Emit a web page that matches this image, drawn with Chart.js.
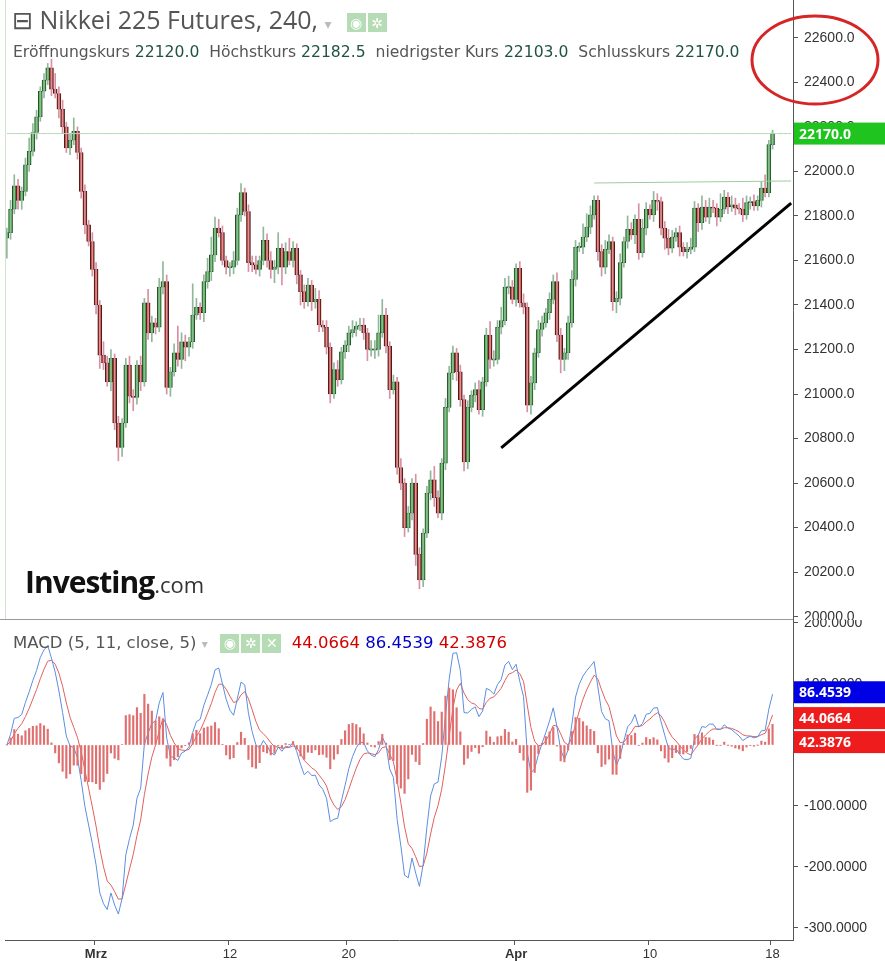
<!DOCTYPE html>
<html>
<head>
<meta charset="utf-8">
<script src="https://cdn.jsdelivr.net/npm/chart.js@4.4.1/dist/chart.umd.min.js"></script>
<style>
  body { margin: 0; background: #fff; font-family: "Open Sans", "DejaVu Sans", sans-serif; }
  #wrap { position: relative; width: 885px; height: 961px; overflow: hidden; }
  canvas { position: absolute; left: 0; }
  .ov { position: absolute; white-space: nowrap; }
  .ico { display: inline-block; width: 19px; height: 19px; background: #b5dcb5; color: #fff;
         font-size: 14px; line-height: 19px; text-align: center; margin-left: 2px; vertical-align: middle; }
  .dv { font-family: "DejaVu Sans", sans-serif; }
  .g { color: #1f5443; }
</style>
</head>
<body>
<div id="wrap">
  <canvas id="price" width="885" height="620" style="top:0;width:885px;height:620px"></canvas>
  <canvas id="macd" width="885" height="341" style="top:620px;width:885px;height:341px"></canvas>
  <div class="ov" style="left:5px;top:0;width:1px;height:620px;background:#cfe3cf"></div>
  <div class="ov" style="left:0;top:619px;width:793px;height:1px;background:#999"></div>
  <div class="ov" style="left:12px;top:2px;font-size:25px;color:#555">⊟ Nikkei 225 Futures, 240, <span style="color:#bbb;font-size:14px">▾</span>&nbsp;
    <span class="ico">◉</span><span class="ico">✲</span></div>
  <div class="ov dv" style="left:13px;top:43px;font-size:15.6px;color:#555">Eröffnungskurs <span class="g">22120.0</span>&nbsp; Höchstkurs <span class="g">22182.5</span>&nbsp; niedrigster Kurs <span class="g">22103.0</span>&nbsp; Schlusskurs <span class="g">22170.0</span></div>
  <div class="ov" style="left:25px;top:561px;font-size:30px;font-weight:bold;color:#111;letter-spacing:-1px">Investing<span style="font-weight:normal;font-size:22px;color:#333;letter-spacing:0">.com</span></div>
  <div class="ov dv" style="left:13px;top:633px;font-size:16.5px;color:#555">MACD (5, 11, close, 5) <span style="color:#bbb;font-size:12px">▾</span>&nbsp;
    <span class="ico">◉</span><span class="ico">✲</span><span class="ico">✕</span>
    <span style="color:#d40000">&nbsp;44.0664</span>&nbsp;<span style="color:#0000c8">86.4539</span>&nbsp;<span style="color:#d40000">42.3876</span></div>
</div>
<script>
// Schlusskurse (4h-Kerzen)
const closes = [
  21725, 21830, 21935, 21870, 21910, 22030, 22090, 22175, 22245, 22360,
  22410, 22465, 22370, 22350, 22280, 22200, 22105, 22140, 22180, 22085,
  21910, 21760, 21685, 21560, 21400, 21175, 21140, 21055, 21160, 20870,
  20760, 20870, 21130, 20990, 20985, 21130, 21055, 21410, 21275, 21320,
  21300, 21480, 21505, 21030, 21100, 21185, 21155, 21235, 21210, 21235,
  21355, 21390, 21365, 21505, 21550, 21625, 21745, 21725, 21600, 21570,
  21570, 21600, 21805, 21905, 21820, 21590, 21580, 21560, 21600, 21690,
  21600, 21560, 21570, 21655, 21570, 21640, 21600, 21655, 21535, 21460,
  21415, 21490, 21415, 21425, 21310, 21300, 21210, 21000, 21110, 21065,
  21190, 21220, 21275, 21290, 21305, 21310, 21275, 21200, 21200, 21200,
  21275, 21355, 21215, 21020, 21055, 20670, 20600, 20400, 20465, 20600,
  20280, 20165, 20375, 20555, 20615, 20535, 20465, 20690, 20940, 21095,
  21185, 21100, 20975, 20695, 20940, 20995, 21020, 20930, 21055, 21265,
  21155, 21155, 21300, 21330, 21480, 21480, 21425, 21565, 21410, 21390,
  20950, 21050, 21185, 21290, 21320, 21365, 21425, 21505, 21265, 21155,
  21185, 21320, 21515, 21660, 21660, 21705, 21750, 21805, 21870, 21640,
  21570, 21650, 21685, 21415, 21430, 21590, 21685, 21740, 21715, 21785,
  21635, 21745, 21830, 21805, 21870, 21865, 21745, 21700, 21655, 21705,
  21725, 21660, 21640, 21650, 21660, 21835, 21770, 21840, 21795, 21840,
  21835, 21795, 21830, 21885, 21840, 21850, 21835, 21830, 21805, 21860,
  21865, 21845, 21870, 21925, 21905, 22120, 22170
];
const firstOpen = 21700;
// Dochtlängen über/unter dem Körper
const wickUp = [
  20, 40, 50, 30, 20, 30, 60, 40, 30, 20, 30, 20, 40, 70, 30, 40, 20, 30, 60, 20,
  20, 30, 20, 40, 30, 20, 60, 30, 40, 20, 30, 20, 30, 40, 30, 20, 40, 20, 60, 30,
  20, 40, 90, 30, 20, 40, 120, 40, 30, 20, 140, 40, 20, 30, 60, 80, 50, 40, 30, 20,
  20, 40, 30, 40, 20, 30, 30, 40, 20, 60, 30, 40, 30, 70, 20, 40, 60, 30, 20, 20,
  30, 30, 20, 50, 40, 20, 30, 20, 30, 40, 20, 20, 30, 40, 20, 30, 30, 20, 40, 40,
  80, 70, 30, 20, 30, 20, 40, 20, 30, 20, 40, 30, 20, 30, 40, 60, 30, 20, 40, 30,
  30, 20, 30, 20, 30, 20, 30, 40, 20, 30, 60, 40, 30, 60, 40, 50, 30, 20, 30, 40,
  20, 30, 20, 40, 30, 20, 30, 30, 40, 30, 20, 30, 40, 30, 20, 60, 60, 40, 20, 20,
  30, 40, 30, 20, 30, 40, 20, 60, 30, 20, 70, 40, 30, 20, 40, 30, 20, 30, 40, 30,
  20, 30, 20, 30, 40, 30, 20, 50, 30, 40, 30, 20, 70, 30, 20, 40, 30, 20, 50, 30,
  20, 30, 20, 30, 60, 20, 15
];
const wickDn = [
  90, 30, 20, 40, 40, 20, 30, 20, 30, 20, 30, 20, 30, 20, 40, 30, 20, 30, 20, 30,
  30, 40, 20, 30, 40, 60, 30, 20, 40, 30, 60, 40, 20, 30, 60, 30, 40, 20, 30, 40,
  30, 20, 30, 30, 40, 20, 30, 40, 60, 40, 30, 20, 30, 40, 30, 40, 30, 20, 20, 30,
  40, 30, 20, 30, 20, 40, 30, 20, 30, 20, 30, 40, 60, 30, 80, 30, 20, 30, 40, 60,
  30, 20, 40, 30, 30, 20, 30, 40, 20, 30, 20, 30, 30, 20, 30, 20, 30, 50, 30, 40,
  30, 20, 30, 40, 20, 30, 30, 40, 20, 30, 50, 40, 30, 20, 30, 40, 20, 30, 30, 20,
  30, 40, 30, 40, 30, 20, 30, 20, 30, 20, 40, 30, 20, 30, 20, 30, 20, 30, 20, 30,
  30, 40, 30, 20, 30, 20, 30, 20, 30, 60, 50, 30, 20, 30, 20, 30, 20, 30, 20, 40,
  40, 30, 20, 40, 50, 30, 20, 30, 20, 40, 30, 20, 30, 20, 30, 40, 30, 50, 30, 20,
  20, 40, 20, 30, 20, 20, 40, 30, 20, 30, 20, 40, 20, 20, 30, 20, 30, 20, 30, 20,
  30, 20, 20, 30, 20, 20, 20
];
// Datumsbeschriftungen (Kerzenindex -> Text)
const dateIdx = [24, 60, 92, 137, 173, 206];
const dateTxt = ['Mrz', '12', '20', 'Apr', '10', '18'];
const priceTicks = [20000, 20200, 20400, 20600, 20800, 21000, 21200, 21400, 21600, 21800, 22000, 22200, 22400, 22600];
const macdTicks = [-300, -200, -100, 0, 100, 200];
const lastPrice = 22170;
// letzte Indikatorwerte laut Legende
const lastMacd = 86.4539, lastSignal = 44.0664, lastHist = 42.3876;
const trendLine = [[133, 20758], [211, 21858]];
const resistLine = [[158, 21948], [211, 21957]];
const totalSlots = 212;

const labels = Array.from({ length: totalSlots }, (_, i) => {
  const k = dateIdx.indexOf(i);
  return k >= 0 ? dateTxt[k] : '';
});
const opens = closes.map((c, i) => (i === 0 ? firstOpen : closes[i - 1]));
const up = closes.map((c, i) => c >= opens[i]);
const bodies = closes.map((c, i) => (c === opens[i] ? [c - 3, c + 3] : [opens[i], c]));
const wicks = closes.map((c, i) => [Math.min(c, opens[i]) - wickDn[i], Math.max(c, opens[i]) + wickUp[i]]);

// MACD (5, 11, close, 5)
function ema(arr, n) {
  const k = 2 / (n + 1);
  const out = [];
  arr.forEach((v, i) => out.push(i === 0 ? v : v * k + out[i - 1] * (1 - k)));
  return out;
}
const e5 = ema(closes, 5), e11 = ema(closes, 11);
const macdLine = closes.map((_, i) => e5[i] - e11[i]);
const signal = ema(macdLine, 5);
const hist = macdLine.map((m, i) => m - signal[i]);

function lineData(pts) {
  const d = new Array(totalSlots).fill(null);
  pts.forEach(([i, v]) => (d[i] = v));
  return d;
}
// feste Achsbreite, keine Zusatzpolster für überstehende Beschriftungen
const fixWidth = (s) => { s.width = 92; s.paddingTop = 0; s.paddingBottom = 0; };

function axisBox(ctx, scale, y, bg, txt) {
  ctx.fillStyle = bg;
  ctx.fillRect(scale.left + 1, y - 11, 91, 22);
  ctx.fillStyle = '#fff';
  ctx.font = 'bold 14px "Open Sans", sans-serif';
  ctx.textBaseline = 'middle';
  ctx.textAlign = 'left';
  ctx.fillText(txt, scale.left + 6, y + 1);
}

new Chart(document.getElementById('price'), {
  type: 'bar',
  data: {
    labels: labels,
    datasets: [
      { type: 'line', data: new Array(totalSlots).fill(lastPrice), borderColor: '#b5d9b5', borderWidth: 1, pointRadius: 0 },
      { type: 'line', data: lineData(resistLine), borderColor: '#9ccc9c', borderWidth: 1, pointRadius: 0, spanGaps: true },
      { data: wicks, backgroundColor: up.map((u) => (u ? '#8fb89a' : '#d890a4')), barThickness: 1, grouped: false },
      { data: bodies, backgroundColor: up.map((u) => (u ? '#2db82d' : '#b3260f')),
        borderColor: up.map((u) => (u ? '#2d4a2d' : '#4a1c14')), borderWidth: 1, borderSkipped: false,
        barThickness: 4, grouped: false },
      { type: 'line', data: lineData(trendLine), borderColor: '#000', borderWidth: 3, pointRadius: 0, spanGaps: true },
    ],
  },
  options: {
    responsive: false, animation: false,
    layout: { padding: { left: 5, top: 0, bottom: 0 } },
    plugins: { legend: { display: false }, tooltip: { enabled: false } },
    scales: {
      x: { display: false },
      y: {
        position: 'right', min: 19985, max: 22770, afterFit: fixWidth,
        afterBuildTicks: (s) => { s.ticks = priceTicks.map((v) => ({ value: v })); },
        ticks: { color: '#333', font: { size: 14 }, padding: 6, callback: (v) => v.toFixed(1) },
        grid: { drawOnChartArea: false, tickLength: 5, color: '#555' },
        border: { color: '#555' },
      },
    },
  },
  plugins: [{
    id: 'extras',
    afterDraw(chart) {
      const { ctx, scales: { y } } = chart;
      axisBox(ctx, y, y.getPixelForValue(lastPrice), '#1fc41f', lastPrice.toFixed(1));
      ctx.save();
      ctx.strokeStyle = '#d62525';
      ctx.lineWidth = 3;
      ctx.beginPath();
      ctx.ellipse(815, 60, 63, 44, 0, 0, Math.PI * 2);
      ctx.stroke();
      ctx.restore();
    },
  }],
});

new Chart(document.getElementById('macd'), {
  type: 'bar',
  data: {
    labels: labels,
    datasets: [
      { data: hist, backgroundColor: '#e07070', barThickness: 1.5 },
      { type: 'line', data: macdLine, borderColor: '#5b8ee0', borderWidth: 1, pointRadius: 0 },
      { type: 'line', data: signal, borderColor: '#e06060', borderWidth: 1, pointRadius: 0 },
    ],
  },
  options: {
    responsive: false, animation: false,
    layout: { padding: { left: 5, top: 0 } },
    plugins: { legend: { display: false }, tooltip: { enabled: false } },
    scales: {
      x: {
        afterFit: (s) => { s.height = 21; },
        ticks: {
          autoSkip: false, maxRotation: 0, padding: 2, color: '#333',
          font: (c) => ({ size: 13, weight: /^[A-Z]/.test(labels[c.index] || '') ? 'bold' : 'normal' }),
          callback: (v, i) => labels[i],
        },
        grid: { drawOnChartArea: false, tickLength: 5, color: (c) => (labels[c.index] ? '#555' : 'transparent') },
        border: { color: '#555' },
      },
      y: {
        position: 'right', min: -319.7, max: 204.9, afterFit: fixWidth,
        afterBuildTicks: (s) => { s.ticks = macdTicks.map((v) => ({ value: v })); },
        ticks: { color: '#333', font: { size: 14 }, padding: 6, callback: (v) => v.toFixed(4) },
        grid: { drawOnChartArea: false, tickLength: 5, color: '#555' },
        border: { color: '#555' },
      },
    },
  },
  plugins: [{
    id: 'boxes',
    afterDraw(chart) {
      const { ctx, scales: { y } } = chart;
      let y1 = y.getPixelForValue(lastMacd), y2 = y.getPixelForValue(lastSignal), y3 = y.getPixelForValue(lastHist);
      if (y2 - y1 < 24) y2 = y1 + 24;
      if (y3 - y2 < 24) y3 = y2 + 24;
      axisBox(ctx, y, y1, '#0000e6', lastMacd.toFixed(4));
      axisBox(ctx, y, y2, '#ee1c1c', lastSignal.toFixed(4));
      axisBox(ctx, y, y3, '#ee1c1c', lastHist.toFixed(4));
    },
  }],
});
</script>
</body>
</html>
